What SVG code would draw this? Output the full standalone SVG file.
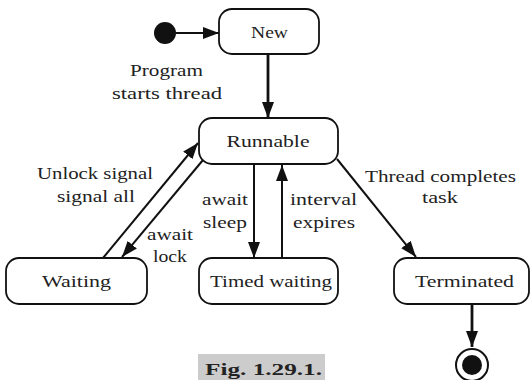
<svg xmlns="http://www.w3.org/2000/svg" width="530" height="380" viewBox="0 0 530 380">
<defs>
<style>
.box{fill:#fff;stroke:#111;stroke-width:1.8}
.t{font-family:"Liberation Serif","Times New Roman",serif;font-size:17.5px;fill:#222;text-anchor:middle}
.ln{stroke:#111;stroke-width:2;fill:none}
.thick{stroke-width:2.8}
.cap{font-family:"Liberation Serif","Times New Roman",serif;font-size:17px;font-weight:bold;fill:#222;text-anchor:middle}
</style>
<marker id="ah" viewBox="0 0 16 12" refX="16" refY="6" markerWidth="16" markerHeight="12" markerUnits="userSpaceOnUse" orient="auto">
<path d="M0,0 L16,6 L0,12 Z" fill="#111"/>
</marker>
</defs>
<rect width="530" height="380" fill="#fff"/>
<g id="connectors">
<line class="ln" x1="176" y1="33" x2="219" y2="33" marker-end="url(#ah)"/>
<line class="ln thick" x1="268" y1="54" x2="268" y2="118" marker-end="url(#ah)"/>
<line class="ln" x1="103" y1="258" x2="198" y2="143" marker-end="url(#ah)"/>
<line class="ln" x1="203" y1="160" x2="122" y2="257" marker-end="url(#ah)"/>
<line class="ln" x1="254" y1="164" x2="254" y2="258" marker-end="url(#ah)"/>
<line class="ln" x1="282" y1="258" x2="282" y2="165" marker-end="url(#ah)"/>
<line class="ln" x1="337" y1="159" x2="416" y2="257" marker-end="url(#ah)"/>
<line class="ln thick" x1="472" y1="304" x2="472" y2="347" marker-end="url(#ah)"/>
</g>
<g id="start"><circle cx="165" cy="33" r="11" fill="#111"/></g>
<g id="new"><rect class="box" x="219" y="9" width="100" height="45" rx="13"/><text class="t" x="269.5" y="38" textLength="37" lengthAdjust="spacingAndGlyphs">New</text></g>
<g id="runnable"><rect class="box" x="199" y="118" width="139" height="46" rx="13"/><text class="t" x="268" y="147" textLength="83" lengthAdjust="spacingAndGlyphs">Runnable</text></g>
<g id="waiting"><rect class="box" x="6" y="258" width="141" height="46" rx="13"/><text class="t" x="76.5" y="287" textLength="69" lengthAdjust="spacingAndGlyphs">Waiting</text></g>
<g id="timed"><rect class="box" x="199" y="258" width="139" height="46" rx="13"/><text class="t" x="271" y="287" textLength="122" lengthAdjust="spacingAndGlyphs">Timed waiting</text></g>
<g id="terminated"><rect class="box" x="394" y="258" width="135" height="46" rx="13"/><text class="t" x="464.5" y="287" textLength="99" lengthAdjust="spacingAndGlyphs">Terminated</text></g>
<g id="end"><circle cx="472" cy="365" r="16" fill="#fff" stroke="#111" stroke-width="2"/><circle cx="472" cy="365" r="10" fill="#111"/></g>
<g id="labels">
<text class="t" x="166.5" y="76" textLength="73" lengthAdjust="spacingAndGlyphs">Program</text>
<text class="t" x="167" y="99" textLength="110" lengthAdjust="spacingAndGlyphs">starts thread</text>
<text class="t" x="95" y="179" textLength="116" lengthAdjust="spacingAndGlyphs">Unlock signal</text>
<text class="t" x="96" y="202" textLength="78" lengthAdjust="spacingAndGlyphs">signal all</text>
<text class="t" x="170" y="240" textLength="46" lengthAdjust="spacingAndGlyphs">await</text>
<text class="t" x="170" y="262" textLength="34" lengthAdjust="spacingAndGlyphs">lock</text>
<text class="t" x="225" y="205" textLength="46" lengthAdjust="spacingAndGlyphs">await</text>
<text class="t" x="225" y="228" textLength="44" lengthAdjust="spacingAndGlyphs">sleep</text>
<text class="t" x="323.5" y="205" textLength="67" lengthAdjust="spacingAndGlyphs">interval</text>
<text class="t" x="324" y="228" textLength="62" lengthAdjust="spacingAndGlyphs">expires</text>
<text class="t" x="440.5" y="182" textLength="151" lengthAdjust="spacingAndGlyphs">Thread completes</text>
<text class="t" x="440" y="203" textLength="36" lengthAdjust="spacingAndGlyphs">task</text>
</g>
<g id="caption"><rect x="198" y="354" width="127" height="26" fill="#cccccc"/><text class="cap" x="263.5" y="375" textLength="117" lengthAdjust="spacingAndGlyphs">Fig. 1.29.1.</text></g>
</svg>
